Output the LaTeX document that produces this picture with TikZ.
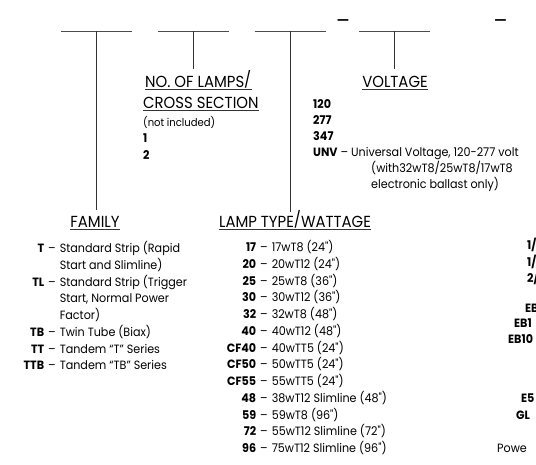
\documentclass[tikz,border=0pt]{standalone}
\usepackage{fontspec}
\setmainfont{Poppins}[Ligatures=TeXOff,FakeStretch=0.93]
\usepackage{array}
\usetikzlibrary{positioning}
\newcolumntype{R}[1]{>{\raggedleft\arraybackslash\bfseries}p{#1}}
\newcommand{\hslash}{\raisebox{1.6pt}{/}}

\begin{document}
\begin{tikzpicture}[x=1pt,y=-1pt,
  font=\fontsize{12}{16.75}\selectfont,
  every node/.style={inner sep=0pt},
  head/.style={font=\fontsize{16}{19}\selectfont},
  code/.style={font=\fontsize{12}{16}\selectfont\bfseries,anchor=base west},
  blank/.style={draw=black!70,line width=0.8pt},
  tick/.style={draw=black!80,line width=0.8pt},
  uline/.style={draw=black!80,line width=0.6pt}]
\useasboundingbox (0,0) rectangle (536,464);
\clip (0,0) rectangle (536,464);
% blanks of the order code
\coordinate (b1) at (96.5,31);
\coordinate (b2) at (193.5,31);
\coordinate (b3) at (290,31);
\coordinate (b4) at (394.5,31);
\coordinate (e1) at (96.5,210);
\coordinate (e2) at (193.5,69);
\coordinate (e3) at (290,212);
\coordinate (e4) at (394.5,69);
\draw[blank] ([xshift=-35.5pt]b1) -- ([xshift=35.5pt]b1);
\draw[blank] ([xshift=-35.5pt]b2) -- ([xshift=35.5pt]b2);
\draw[blank] ([xshift=-35.5pt]b3) -- ([xshift=35.5pt]b3);
\draw[blank] ([xshift=-35.5pt]b4) -- ([xshift=35.5pt]b4);
\node[anchor=base] (d1) at (343,28.5) {\fontsize{22}{22}\selectfont –};
\node[anchor=base] (d2) at (500.5,28.5) {\fontsize{22}{22}\selectfont –};
% headings
\node[head,anchor=base] (fam) at (95,227.3) {FAMILY};
\node[head,anchor=base west] (nol) at (145,87.5) {NO. OF LAMPS\hslash};
\node[head,anchor=base west] (cs) at (143,108.5) {CROSS SECTION};
\node[head,anchor=base] (volt) at (395,87.5) {VOLTAGE};
\node[head,anchor=base] (lamp) at (295,227.3) {LAMP TYPE\hslash WATTAGE};
\foreach \n in {fam,nol,cs,volt,lamp}
  \draw[uline] ([yshift=-1.8pt]\n.base west) -- ([yshift=-1.8pt]\n.base east);
\draw[tick] (b1) -- (e1);
\draw[tick] (b2) -- (e2);
\draw[tick] (b3) -- (e3);
\draw[tick] (b4) -- (e4);
% lists
\node[anchor=base west] (famlist) at (14,252.7) {%
\begin{tabular}[t]{@{}R{30pt}@{\hspace{4pt}}c@{\hspace{4pt}}l@{}}
T & – & Standard Strip (Rapid\\
 & & Start and Slimline)\\
TL & – & Standard Strip (Trigger\\
 & & Start, Normal Power\\
 & & Factor)\\
TB & – & Twin Tube (Biax)\\
TT & – & Tandem “T” Series\\
TTB & – & Tandem “TB” Series
\end{tabular}};
\node[anchor=base west] (nollist) at (143,126.5) {\fontsize{12}{16.3}\selectfont
\begin{tabular}[t]{@{}l@{}}
\fontsize{10.8}{16}\selectfont(not included)\\
\bfseries 1\\
\bfseries 2
\end{tabular}};
\node[anchor=base west] (voltlist) at (313,108.3) {\fontsize{12}{16}\selectfont
\begin{tabular}[t]{@{}l@{}}
\bfseries 120\\
\bfseries 277\\
\bfseries 347\\
\textbf{UNV} – Universal Voltage, 120-277 volt\\
\hspace{58pt}(with32wT8/25wT8/17wT8\\
\hspace{58pt}electronic ballast only)
\end{tabular}};
\node[anchor=base west] (lamplist) at (216,251.7) {%
\begin{tabular}[t]{@{}R{40pt}@{\hspace{4pt}}c@{\hspace{4pt}}l@{}}
17 & – & 17wT8 (24")\\
20 & – & 20wT12 (24")\\
25 & – & 25wT8 (36")\\
30 & – & 30wT12 (36")\\
32 & – & 32wT8 (48")\\
40 & – & 40wT12 (48")\\
CF40 & – & 40wTT5 (24")\\
CF50 & – & 50wTT5 (24")\\
CF55 & – & 55wTT5 (24")\\
48 & – & 38wT12 Slimline (48")\\
59 & – & 59wT8 (96")\\
72 & – & 55wT12 Slimline (72")\\
96 & – & 75wT12 Slimline (96")
\end{tabular}};
% column cut off at the right edge
\node[code] (r1) at (527,249.3) {1/};
\node[code] (r2) at (527,266.3) {1/};
\node[code] (r3) at (527,282.3) {2/};
\node[code] (r4) at (525,312.3) {EB};
\node[code] (r5) at (514,327.3) {EB1};
\node[code] (r6) at (508,343.3) {EB10};
\node[code] (r7) at (521,402.3) {E5};
\node[code] (r8) at (516,419.3) {GL};
\node[anchor=base west] (r9) at (497,452.3) {Powe};
\end{tikzpicture}
\end{document}
